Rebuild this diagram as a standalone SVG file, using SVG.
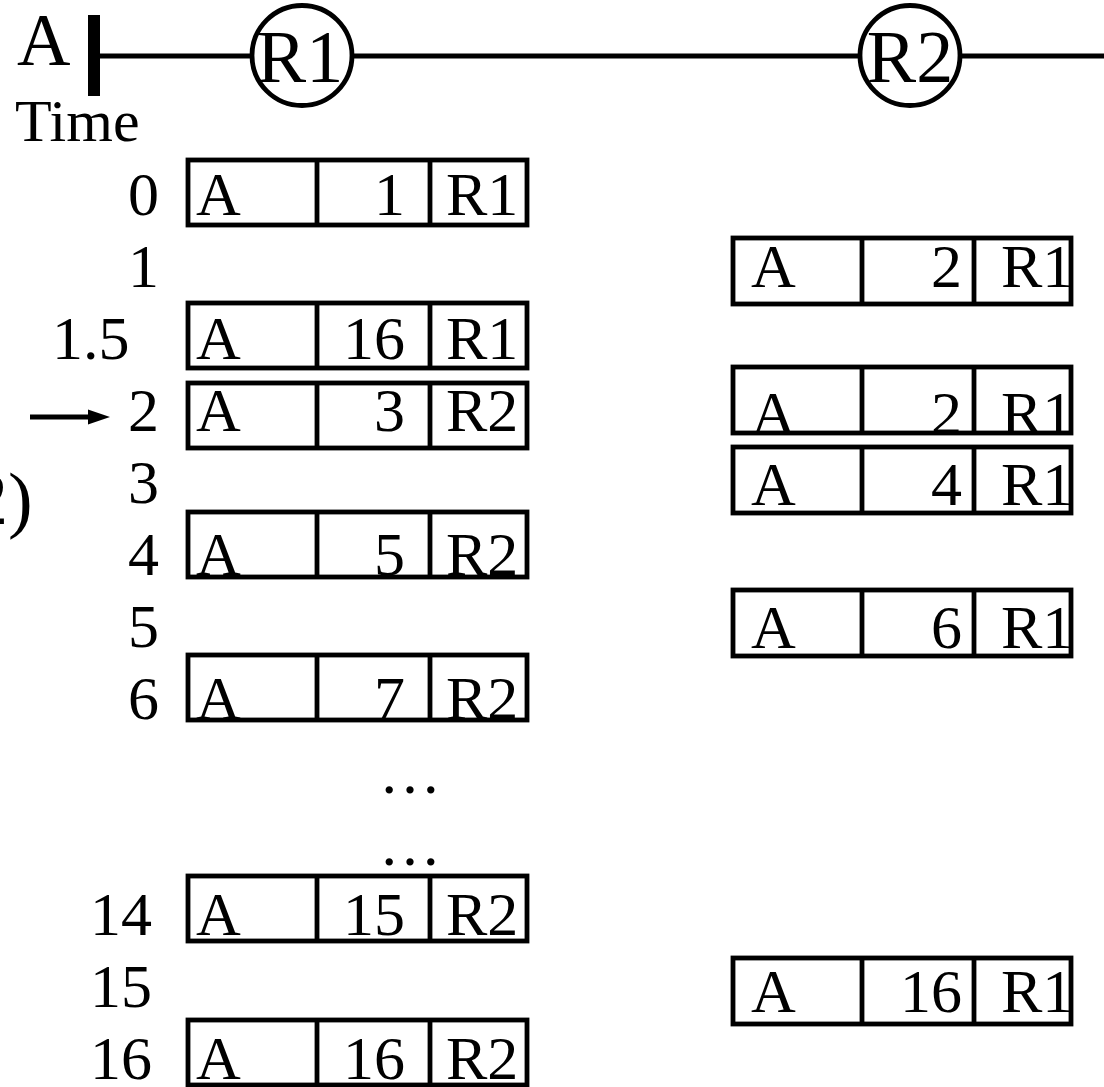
<svg xmlns="http://www.w3.org/2000/svg" width="1104" height="1087" viewBox="0 0 1104 1087">
<style>
text{font-family:"Liberation Serif","Times New Roman",serif;fill:#000;}
.big{font-size:74px;}
.t{font-size:62px;}
.num{font-size:62px;text-anchor:end;}
.frame{fill:none;stroke:#000;stroke-width:4.8;}
.div{stroke:#000;stroke-width:4.8;}
.wire{stroke:#000;stroke-width:5;fill:none;}
.node{fill:#fff;stroke:#000;stroke-width:4.8;}
</style>
<defs>
<g id="colL">
<line class="div" x1="129" y1="0" x2="129" y2="65"/>
<line class="div" x1="242" y1="0" x2="242" y2="65"/>
<rect class="frame" x="0" y="0" width="339" height="65"/>
</g>
<g id="colR">
<line class="div" x1="129" y1="0" x2="129" y2="66"/>
<line class="div" x1="241" y1="0" x2="241" y2="66"/>
<rect class="frame" x="0" y="0" width="338" height="66"/>
</g>
</defs>

<g id="connectors">
<line class="wire" x1="93" y1="56" x2="1104" y2="56"/>
<line class="wire" x1="30" y1="417" x2="92" y2="417" stroke-width="4.5"/>
<polygon points="110,417 88,409.5 88,424.5" fill="#000"/>
</g>

<g id="source">
<text class="big" x="17" y="65">A</text>
<rect x="88" y="15" width="12" height="81" fill="#000"/>
</g>
<g id="R1">
<circle class="node" cx="302" cy="55.5" r="50"/>
<text class="big" x="300" y="82" text-anchor="middle">R1</text>
</g>
<g id="R2">
<circle class="node" cx="910" cy="55.5" r="50"/>
<text class="big" x="910" y="82" text-anchor="middle">R2</text>
</g>

<g id="labels">
<text class="t" x="15" y="141" style="font-size:60px">Time</text>
<text class="t" x="128" y="215">0</text>
<text class="t" x="128" y="287">1</text>
<text class="t" x="52" y="359">1.5</text>
<text class="t" x="128" y="431">2</text>
<text class="t" x="128" y="503">3</text>
<text class="t" x="128" y="575">4</text>
<text class="t" x="128" y="647">5</text>
<text class="t" x="128" y="719">6</text>
<text class="t" x="410" y="793" text-anchor="middle">…</text>
<text class="t" x="410" y="865" text-anchor="middle">…</text>
<text class="t" x="90" y="935">14</text>
<text class="t" x="90" y="1007">15</text>
<text class="t" x="90" y="1079">16</text>
<text class="big" x="-29" y="524">2)</text>
</g>

<g id="L0">
<svg x="188" y="160" width="339" height="65" overflow="hidden">
<text class="t" x="8" y="55">A</text><text class="num" x="217" y="55">1</text><text class="t" x="258" y="55">R1</text>
</svg>
<use href="#colL" x="188" y="160"/>
</g>
<g id="L1_5">
<svg x="188" y="303" width="339" height="65" overflow="hidden">
<text class="t" x="8" y="56">A</text><text class="num" x="217" y="56">16</text><text class="t" x="258" y="56">R1</text>
</svg>
<use href="#colL" x="188" y="303"/>
</g>
<g id="L2">
<svg x="188" y="383" width="339" height="65" overflow="hidden">
<text class="t" x="8" y="48">A</text><text class="num" x="217" y="48">3</text><text class="t" x="258" y="48">R2</text>
</svg>
<use href="#colL" x="188" y="383"/>
</g>
<g id="L4">
<svg x="188" y="512" width="339" height="65" overflow="hidden">
<text class="t" x="8" y="63">A</text><text class="num" x="217" y="63">5</text><text class="t" x="258" y="63">R2</text>
</svg>
<use href="#colL" x="188" y="512"/>
</g>
<g id="L6">
<svg x="188" y="655" width="339" height="65" overflow="hidden">
<text class="t" x="8" y="64">A</text><text class="num" x="217" y="64">7</text><text class="t" x="258" y="64">R2</text>
</svg>
<use href="#colL" x="188" y="655"/>
</g>
<g id="L14">
<svg x="188" y="876" width="339" height="65" overflow="hidden">
<text class="t" x="8" y="59">A</text><text class="num" x="217" y="59">15</text><text class="t" x="258" y="59">R2</text>
</svg>
<use href="#colL" x="188" y="876"/>
</g>
<g id="L16">
<svg x="188" y="1020" width="339" height="65" overflow="hidden">
<text class="t" x="8" y="59">A</text><text class="num" x="217" y="59">16</text><text class="t" x="258" y="59">R2</text>
</svg>
<use href="#colL" x="188" y="1020"/>
</g>

<g id="R_1">
<svg x="733" y="238" width="338" height="66" overflow="hidden">
<text class="t" x="18" y="49">A</text><text class="num" x="229" y="49">2</text><text class="t" x="268" y="49">R1</text>
</svg>
<use href="#colR" x="733" y="238"/>
</g>
<g id="R_2">
<svg x="733" y="367" width="338" height="66" overflow="hidden">
<text class="t" x="18" y="67">A</text><text class="num" x="229" y="67">2</text><text class="t" x="268" y="67">R1</text>
</svg>
<use href="#colR" x="733" y="367"/>
</g>
<g id="R_3">
<svg x="733" y="447" width="338" height="66" overflow="hidden">
<text class="t" x="18" y="58">A</text><text class="num" x="229" y="58">4</text><text class="t" x="268" y="58">R1</text>
</svg>
<use href="#colR" x="733" y="447"/>
</g>
<g id="R_5">
<svg x="733" y="590" width="338" height="66" overflow="hidden">
<text class="t" x="18" y="58">A</text><text class="num" x="229" y="58">6</text><text class="t" x="268" y="58">R1</text>
</svg>
<use href="#colR" x="733" y="590"/>
</g>
<g id="R_15">
<svg x="733" y="958" width="338" height="66" overflow="hidden">
<text class="t" x="18" y="54">A</text><text class="num" x="229" y="54">16</text><text class="t" x="268" y="54">R1</text>
</svg>
<use href="#colR" x="733" y="958"/>
</g>
</svg>
